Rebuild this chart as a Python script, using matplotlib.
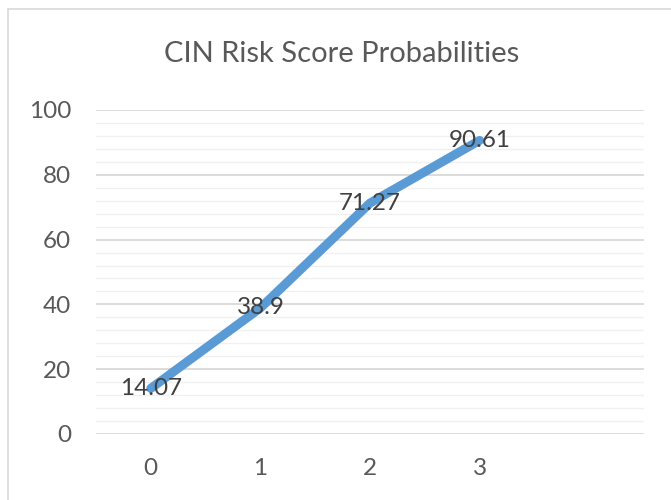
import matplotlib
matplotlib.use("Agg")
from matplotlib import pyplot as plt
from matplotlib.lines import Line2D
from matplotlib.ticker import MultipleLocator

categories = ["0", "1", "2", "3", ""]
scores = [14.07, 38.9, 71.27, 90.61]
labels = ["14.07", "38.9", "71.27", "90.61"]

plt.rcParams['font.family'] = ['Lato', 'DejaVu Sans']
txt = '#595959'

fig = plt.figure(figsize=(6.71, 5.0), dpi=100)
ax = fig.add_axes([96/671, 1 - 434/500, (644 - 96)/671, (434 - 110)/500])

x = list(range(len(scores)))
ax.plot(x, scores, color='#5B9BD5', lw=6.5, solid_capstyle='round', solid_joinstyle='round', zorder=3)
for xi, yi, lab in zip(x, scores, labels):
    ax.text(xi, yi, lab, ha='center', va='center', fontsize=17.5, color='#404040', zorder=4)

ax.set_xlim(-0.5, len(categories) - 0.5)
ax.set_ylim(0, 100)
ax.set_xticks(range(len(categories)))
ax.set_xticklabels(categories)
ax.yaxis.set_major_locator(MultipleLocator(20))
ax.yaxis.set_minor_locator(MultipleLocator(4))
ax.grid(which='major', axis='y', color='#D9D9D9', lw=1.3)
ax.grid(which='minor', axis='y', color='#F0F0F0', lw=1.0)
ax.set_axisbelow(True)
for s in ax.spines.values():
    s.set_visible(False)
ax.tick_params(which='both', length=0)
ax.tick_params(axis='y', pad=18, labelsize=17.5, labelcolor=txt)
ax.tick_params(axis='x', pad=17, labelsize=17.5, labelcolor=txt)

fig.text(342/671, 1 - 54/500, "CIN Risk Score Probabilities", ha='center', va='center',
         fontsize=21, color=txt)

# chart area border (cropped on the right/bottom)
fig.add_artist(Line2D([8/671, 8/671], [0, 1 - 9/500], transform=fig.transFigure, color='#D9D9D9', lw=1.2))
fig.add_artist(Line2D([8/671, 1], [1 - 9/500, 1 - 9/500], transform=fig.transFigure, color='#D9D9D9', lw=1.2))

fig.savefig("out.png", dpi=100)
